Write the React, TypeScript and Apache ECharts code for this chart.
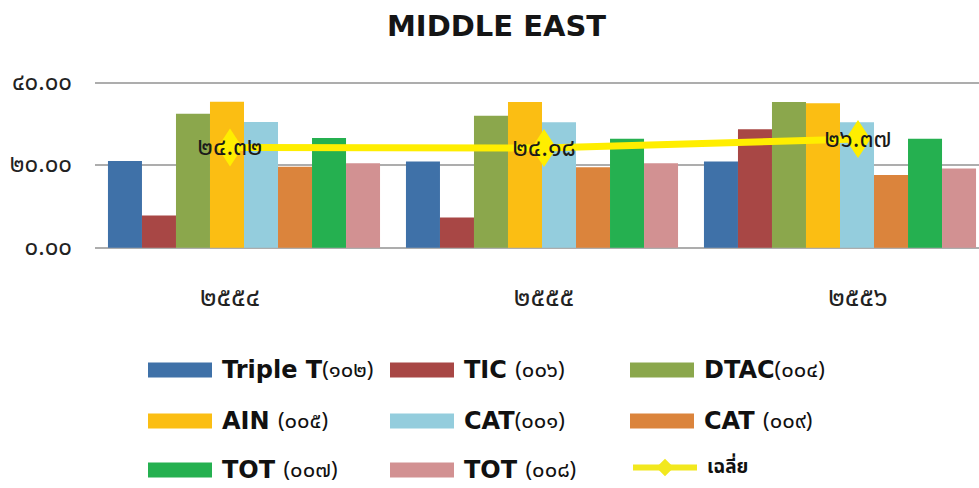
import React, { useEffect, useRef } from "react";
import * as echarts from "echarts";

const years = ["2554", "2555", "2556"];
const seriesNames = [
  ["Triple T", "(102)"],
  ["TIC ", "(006)"],
  ["DTAC", "(004)"],
  ["AIN ", "(005)"],
  ["CAT", "(001)"],
  ["CAT ", "(009)"],
  ["TOT ", "(007)"],
  ["TOT ", "(008)"],
];
const seriesColors = ["#3F71A8", "#A84745", "#8BA74C", "#FBBE13", "#94CDDD", "#DB843C", "#25B050", "#D29192"];
const tripleT = [21.0, 20.9, 20.9];
const tic = [7.8, 7.3, 28.7];
const dtac = [32.5, 32.0, 35.3];
const ain = [35.4, 35.3, 35.0];
const cat001 = [30.5, 30.4, 30.4];
const cat009 = [19.6, 19.5, 17.6];
const tot007 = [26.6, 26.4, 26.4];
const tot008 = [20.5, 20.5, 19.2];
const average = [24.32, 24.18, 26.37];
const averageName = "เฉลี่ย";

const TH = "๐๑๒๓๔๕๖๗๘๙";
const toThai = (s: string) => s.replace(/[0-9]/g, (d) => TH[Number(d)]);

const FONT = "'Noto Sans Thai', 'Noto Sans', 'DejaVu Sans', sans-serif";
const LATIN_BOLD = "'DejaVu Sans', 'Noto Sans Thai', sans-serif";

export default function App() {
  const ref = useRef<HTMLDivElement>(null);
  useEffect(() => {
    document.body.style.margin = "0";
    const chart = echarts.init(ref.current!, null, { renderer: "svg" });
    const values = [tripleT, tic, dtac, ain, cat001, cat009, tot007, tot008];
    const names = seriesNames.map(([a, b]) => a + toThai(b));
    const nameMap: Record<string, [string, string]> = {};
    seriesNames.forEach(([a, b], i) => (nameMap[names[i]] = [a, toThai(b)]));

    const legendRich = {
      a: { fontFamily: LATIN_BOLD, fontSize: 24, fontWeight: "bold", color: "#111", padding: [0, 0, 0, 5], lineHeight: 24 },
      b: { fontFamily: FONT, fontSize: 22, fontWeight: "normal", color: "#111", lineHeight: 24 },
      c: { fontFamily: FONT, fontSize: 19, fontWeight: "bold", color: "#111", padding: [0, 0, 0, 5], lineHeight: 24 },
    };
    const legendFormatter = (n: string) => {
      if (nameMap[n]) return `{a|${nameMap[n][0]}}{b|${nameMap[n][1]}}`;
      return `{c|${n}}`;
    };
    const cols = [148, 390, 630];
    const rows = [370, 421, 470];
    const order = [names[0], names[1], names[2], names[3], names[4], names[5], names[6], names[7], averageName];
    const legends = order.map((n, k) => {
      const isLine = n === averageName;
      return {
        orient: "horizontal",
        left: cols[k % 3],
        top: rows[Math.floor(k / 3)] - 12,
        padding: 0,
        itemWidth: 64,
        itemHeight: isLine ? 22 : 15,
        data: [
          isLine
            ? { name: n, lineStyle: { width: 6, color: "#F2E81E" }, itemStyle: { color: "#F2E81E" } }
            : { name: n, icon: "rect" },
        ],
        formatter: legendFormatter,
        textStyle: { rich: legendRich },
        selectedMode: false,
      };
    });

    const yAxisCommon = { type: "value", min: 0, max: 40, interval: 20 };

    chart.setOption({
      animation: false,
      title: {
        text: "MIDDLE EAST",
        left: 387,
        top: 11,
        padding: 0,
        textStyle: { fontFamily: LATIN_BOLD, fontSize: 29, fontWeight: "bold", color: "#151515" },
      },
      grid: [
        { left: 95, width: 894, top: 82.7, height: 165 },
        { left: 73, width: 942, top: 82.7, height: 165 },
      ],
      xAxis: [
        {
          type: "category",
          gridIndex: 0,
          data: years,
          axisLine: { show: false },
          axisTick: { show: false },
          axisLabel: { show: false },
        },
        {
          type: "category",
          gridIndex: 1,
          data: years,
          axisLine: { show: false },
          axisTick: { show: false },
          axisLabel: {
            margin: 36,
            fontFamily: FONT,
            fontSize: 27,
            color: "#222",
            formatter: (v: string) => toThai(v),
          },
        },
      ],
      yAxis: [
        {
          ...yAxisCommon,
          gridIndex: 0,
          axisLine: { show: false },
          axisTick: { show: false },
          splitLine: { lineStyle: { color: "#ADADAD", width: 2 } },
          axisLabel: {
            margin: 23,
            fontFamily: FONT,
            fontSize: 24,
            color: "#222",
            formatter: (v: number) => toThai(v.toFixed(2)),
          },
        },
        { ...yAxisCommon, gridIndex: 1, show: false },
      ],
      legend: legends,
      series: [
        ...values.map((v, i) => ({
          type: "bar",
          name: names[i],
          data: v,
          xAxisIndex: 0,
          yAxisIndex: 0,
          barGap: "0%",
          barCategoryGap: "8.7%",
          itemStyle: { color: seriesColors[i] },
        })),
        {
          type: "line",
          name: averageName,
          data: average,
          xAxisIndex: 1,
          yAxisIndex: 1,
          z: 10,
          symbol: "diamond",
          symbolSize: [25, 38],
          color: "#FFEE00",
          lineStyle: { color: "#FFEE00", width: 7 },
          itemStyle: { color: "#FFEE00" },
          label: {
            show: true,
            position: "inside",
            fontFamily: FONT,
            fontSize: 25,
            color: "#1a1a1a",
            formatter: (p: any) => toThai(Number(p.value).toFixed(2)),
          },
        },
      ],
    });
    return () => chart.dispose();
  }, []);
  return (
    <div style={{ width: 979, height: 488, overflow: "hidden", position: "relative" }}>
      <div ref={ref} style={{ width: 1040, height: 488 }} />
    </div>
  );
}
